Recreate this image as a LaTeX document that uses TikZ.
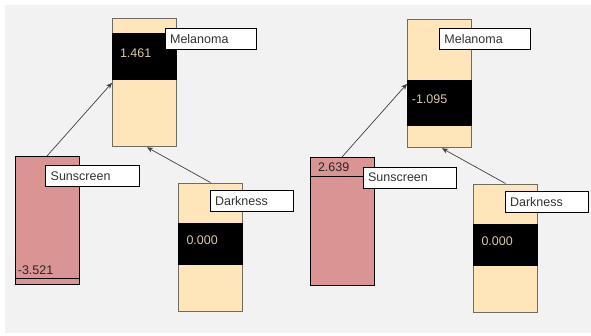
\documentclass[tikz,border=0pt]{standalone}
\usepackage{fontspec}
\setmainfont{Liberation Sans}
\usetikzlibrary{arrows.meta}
\definecolor{bg}{HTML}{F2F2F2}
\definecolor{beige}{HTML}{FFE6BA}
\definecolor{pinkbox}{HTML}{DA9494}
\definecolor{valtxt}{HTML}{D9C9A3}
\definecolor{lbltxt}{HTML}{333333}
\definecolor{edge}{HTML}{6E6A64}
\definecolor{arrowc}{HTML}{404040}
\begin{document}
\begin{tikzpicture}[x=1pt,y=-1pt,
  font=\fontsize{12.5}{12.5}\selectfont,
  nodebox/.style={draw=edge, line width=1pt, fill=beige, anchor=north west, inner sep=0pt,
    minimum width=64pt, minimum height=128pt},
  pinkstyle/.style={nodebox, draw=black, fill=pinkbox},
  band/.style={fill=black, anchor=north west, inner sep=0pt, minimum width=65pt},
  val/.style={text=valtxt, anchor=east, inner sep=0pt},
  sval/.style={text=black!85, anchor=east, inner sep=0pt},
  lbl/.style={draw=black, line width=0.8pt, fill=white, text=lbltxt, anchor=north west,
    inner xsep=5pt, inner ysep=0pt, minimum height=21pt, align=left},
  link/.style={draw=arrowc, line width=0.7pt, -{Stealth[length=6pt,width=5pt]}}
]
\useasboundingbox (0,0) rectangle (591,335);
\fill[bg] (5,5) rectangle (591,333);

% ---------- left panel ----------
\node[nodebox] (mel1) at (112,18.3) {};
\node[band, minimum height=47.3pt] (mel1b) at (111.5,32.7) {};
\node[val] (mel1v) at (151.5,53) {1.461};

\node[pinkstyle] (sun1) at (14.5,156) {};
\draw[black, line width=0.8pt] ([yshift=6.7pt]sun1.south west) -- ([yshift=6.7pt]sun1.south east);
\node[sval] (sun1v) at (53.5,270) {-3.521};

\node[nodebox] (dark1) at (178,182.5) {};
\node[band, minimum height=42.3pt] (dark1b) at (177.5,222.7) {};
\node[val] (dark1v) at (218,240.5) {0.000};

\draw[link] (sun1.north) -- (mel1.west);
\draw[link] (dark1.north) -- ([xshift=2.5pt]mel1.south);

\node[lbl, text width=81pt] (mel1l) at (164.7,27.7) {Melanoma};
\node[lbl, text width=84pt] (sun1l) at (45.3,165) {Sunscreen};
\node[lbl, text width=73pt] (dark1l) at (209.7,190.3) {Darkness};

% ---------- right panel ----------
\node[nodebox] (mel2) at (407,19.3) {};
\node[band, minimum height=46pt] (mel2b) at (406.5,80) {};
\node[val] (mel2v) at (447.5,99.5) {-1.095};

\node[pinkstyle] (sun2) at (309.5,157) {};
\draw[black, line width=0.8pt] ([yshift=-19.7pt]sun2.north west) -- ([yshift=-19.7pt]sun2.north east);
\node[sval] (sun2v) at (349.5,167.5) {2.639};

\node[nodebox] (dark2) at (473,183.5) {};
\node[band, minimum height=41.7pt] (dark2b) at (472.5,224) {};
\node[val] (dark2v) at (513,241.5) {0.000};

\draw[link] (sun2.north) -- (mel2.west);
\draw[link] (dark2.north) -- ([xshift=2.5pt]mel2.south);

\node[lbl, text width=81pt] (mel2l) at (439,28.3) {Melanoma};
\node[lbl, text width=83pt] (sun2l) at (362.7,166.7) {Sunscreen};
\node[lbl, text width=73pt] (dark2l) at (504.7,191.3) {Darkness};
\end{tikzpicture}
\end{document}
